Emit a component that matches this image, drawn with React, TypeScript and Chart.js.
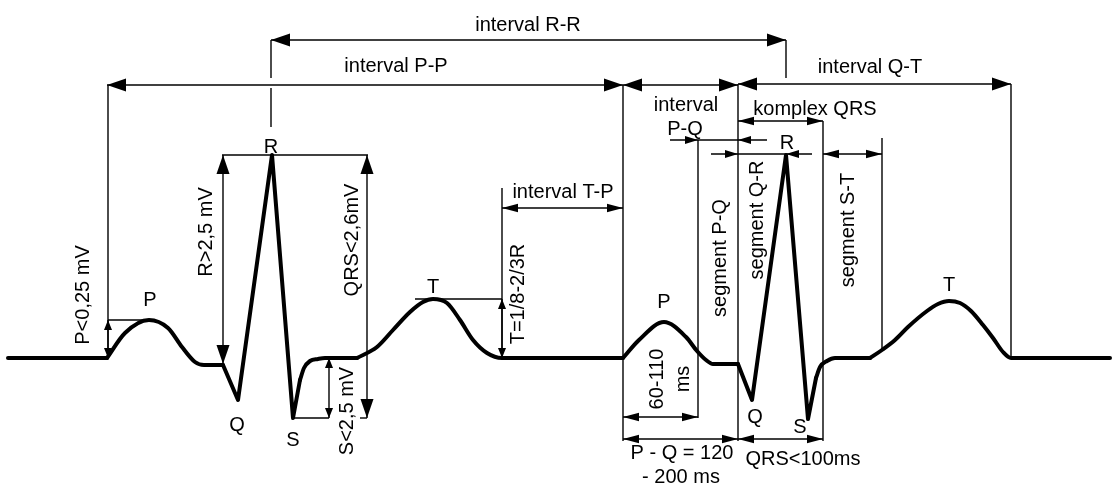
import React, { useEffect, useRef } from "react";
import { Chart, registerables } from "chart.js";

Chart.register(...registerables);

// ---- ECG trace (x: time units, y: amplitude units above the isoelectric line) ----
const beat1Baseline = [[8, 0], [107, 0]];
const beat1P = [[107, 0], [125, 25], [149, 38], [168, 30], [182, 11], [195, -4], [204, -7], [223, -7]];
const beat1QRS = [[223, -7], [238, -42], [272, 203], [293, -60], [300, -22]];
const beat1ST = [[300, -22], [304, -10], [310, -3], [318, -1], [325, 0], [357, 0]];
const beat1T = [[357, 0], [377, 11], [393, 28], [410, 46], [423, 56], [433, 59], [447, 55], [460, 38], [473, 18], [487, 5], [502, 0], [623, 0]];
const beat2P = [[623, 0], [639, 18], [664, 36], [686, 21], [697, 7], [706, -2], [713, -6], [738, -6]];
const beat2QRS = [[738, -6], [752, -42], [786, 203], [808, -61], [816, -20]];
const beat2ST = [[816, -20], [820, -9], [827, -3], [835, 0], [870, 0]];
const beat2T = [[870, 0], [882, 8], [895, 18], [908, 31], [927, 47], [938, 54], [949, 57], [960, 55], [971, 47], [983, 33], [993, 20], [1003, 6], [1011, 0], [1110, 0]];

// ---- annotation values (same units) ----
// [x1, y1, x2, y2]
const intervalArrows = [
  [271, 318, 786, 318],
  [107, 273, 623, 273],
  [623, 273, 738, 273],
  [738, 274, 1011, 274],
];
const verticalMeasureArrows = [
  [223, 203, 223, -6],
  [367, 203, 367, -60],
];
const horizontalMeasureArrows = [
  [738, 237, 823, 237],
  [823, 204, 882, 204],
  [502, 150, 623, 150],
  [623, -59, 698, -59],
  [623, -81, 738, -81],
  [738, -81, 823, -81],
];
const amplitudeArrows = [
  [108, 38, 108, 0],
  [329, 0, 329, -60],
  [502, 59, 502, 0],
];
// [xStart, xEnd, y, tip pointing right, tip pointing left]
const pointerArrows = [
  [670, 767, 218, 698, 738],
  [711, 812, 204, 738, 786],
];
// [x, y1, y2]
const guideVerticals = [
  [108, 273, 0],
  [271, 318, 280],
  [271, 270, 231],
  [786, 318, 280],
  [623, 273, -83],
  [738, 274, -83],
  [1011, 274, 0],
  [823, 237, -83],
  [698, 218, -60],
  [882, 220, 8],
  [502, 170, 0],
];
// [y, x1, x2]
const guideHorizontals = [
  [203, 222, 368],
  [38, 108, 149],
  [59, 415, 502],
  [-60, 293, 329],
  [-60, 360, 367],
];
// [text, x, y]
const labels: [string, number, number][] = [
  ["interval R-R", 528, 333],
  ["interval P-P", 396, 292],
  ["interval Q-T", 870, 291],
  ["interval", 686, 253],
  ["P-Q", 685, 229],
  ["komplex QRS", 815, 249],
  ["interval T-P", 563, 166],
  ["R", 271, 211],
  ["R", 787, 215],
  ["P", 150, 58],
  ["T", 433, 71],
  ["P", 664, 56],
  ["T", 949, 73],
  ["Q", 237, -67],
  ["S", 293, -82],
  ["Q", 755, -59],
  ["S", 800, -69],
  ["P - Q = 120", 682, -95],
  ["- 200 ms", 681, -119],
  ["QRS<100ms", 803, -101],
];
const rotatedLabels: [string, number, number][] = [
  ["P<0,25 mV", 83, 63],
  ["R>2,5 mV", 206, 126],
  ["QRS<2,6mV", 352, 118],
  ["S<2,5 mV", 347, -53],
  ["T=1/8-2/3R", 518, 64],
  ["segment P-Q", 720, 100],
  ["segment Q-R", 757, 138],
  ["segment S-T", 848, 128],
  ["60-110", 657, -21],
  ["ms", 683, -21],
];

const toXY = (arr: number[][]) => arr.map(([x, y]) => ({ x, y }));

const FONT = "20px 'Liberation Sans', Arial, Helvetica, sans-serif";

function head(ctx: CanvasRenderingContext2D, tx: number, ty: number, dx: number, dy: number, len: number, hw: number) {
  const l = Math.hypot(dx, dy) || 1;
  const ux = dx / l, uy = dy / l;
  const bx = tx - ux * len, by = ty - uy * len;
  ctx.beginPath();
  ctx.moveTo(tx, ty);
  ctx.lineTo(bx - uy * hw, by + ux * hw);
  ctx.lineTo(bx + uy * hw, by - ux * hw);
  ctx.closePath();
  ctx.fill();
}

const annotationPlugin = {
  id: "ecgAnnotations",
  afterDatasetsDraw(chart: any) {
    const ctx: CanvasRenderingContext2D = chart.ctx;
    const xs = chart.scales.x, ys = chart.scales.y;
    const X = (v: number) => xs.getPixelForValue(v);
    const Y = (v: number) => ys.getPixelForValue(v);
    ctx.save();
    ctx.strokeStyle = "#000";
    ctx.fillStyle = "#000";
    ctx.lineWidth = 1.4;
    ctx.lineCap = "butt";

    const line = (x1: number, y1: number, x2: number, y2: number) => {
      ctx.beginPath();
      ctx.moveTo(x1, y1);
      ctx.lineTo(x2, y2);
      ctx.stroke();
    };

    guideVerticals.forEach(([x, y1, y2]) => line(X(x), Y(y1), X(x), Y(y2)));
    guideHorizontals.forEach(([y, x1, x2]) => line(X(x1), Y(y), X(x2), Y(y)));

    const dbl = (arr: number[][], len: number, hw: number) => {
      arr.forEach(([x1, y1, x2, y2]) => {
        const a = X(x1), b = Y(y1), c = X(x2), d = Y(y2);
        line(a, b, c, d);
        head(ctx, a, b, a - c, b - d, len, hw);
        head(ctx, c, d, c - a, d - b, len, hw);
      });
    };
    dbl(intervalArrows, 19, 6.5);
    dbl(verticalMeasureArrows, 19, 6.5);
    dbl(horizontalMeasureArrows, 16, 4.2);
    dbl(amplitudeArrows, 10, 4);

    pointerArrows.forEach(([xa, xb, y, tr, tl]) => {
      const py = Y(y);
      line(X(xa), py, X(xb), py);
      head(ctx, X(tr), py, 1, 0, 13, 4);
      head(ctx, X(tl), py, -1, 0, 13, 4);
    });

    ctx.font = FONT;
    ctx.textAlign = "center";
    ctx.textBaseline = "middle";
    labels.forEach(([t, x, y]) => ctx.fillText(t, X(x), Y(y)));
    rotatedLabels.forEach(([t, x, y]) => {
      ctx.save();
      ctx.translate(X(x), Y(y));
      ctx.rotate(-Math.PI / 2);
      ctx.fillText(t, 0, 0);
      ctx.restore();
    });
    ctx.restore();
  },
};

export default function App() {
  const ref = useRef<HTMLCanvasElement | null>(null);
  useEffect(() => {
    if (!ref.current) return;
    const smooth = { cubicInterpolationMode: "monotone" as const, tension: 0.4 };
    const sharp = { tension: 0 };
    const pieces = [
      { d: beat1Baseline, o: sharp },
      { d: beat1P, o: smooth },
      { d: beat1QRS, o: sharp },
      { d: beat1ST, o: smooth },
      { d: beat1T, o: smooth },
      { d: beat2P, o: smooth },
      { d: beat2QRS, o: sharp },
      { d: beat2ST, o: smooth },
      { d: beat2T, o: smooth },
    ];
    const chart = new Chart(ref.current, {
      type: "line",
      data: {
        datasets: pieces.map((p, i) => ({
          label: "ECG " + i,
          data: toXY(p.d),
          borderColor: "#000",
          borderWidth: 4,
          pointRadius: 0,
          fill: false,
          borderCapStyle: "round",
          borderJoinStyle: "round",
          ...p.o,
        })) as any,
      },
      options: {
        animation: false,
        responsive: false,
        devicePixelRatio: 1,
        events: [],
        layout: { padding: 0 },
        plugins: { legend: { display: false }, tooltip: { enabled: false } },
        scales: {
          x: { type: "linear", min: 0, max: 1112, display: false },
          y: { type: "linear", min: -126, max: 358, display: false },
        },
      },
      plugins: [annotationPlugin],
    });
    return () => chart.destroy();
  }, []);
  return (
    <div style={{ position: "fixed", left: 0, top: 0, width: 1112, height: 484, background: "#fff" }}>
      <canvas ref={ref} width={1112} height={484} style={{ width: 1112, height: 484 }} />
    </div>
  );
}
